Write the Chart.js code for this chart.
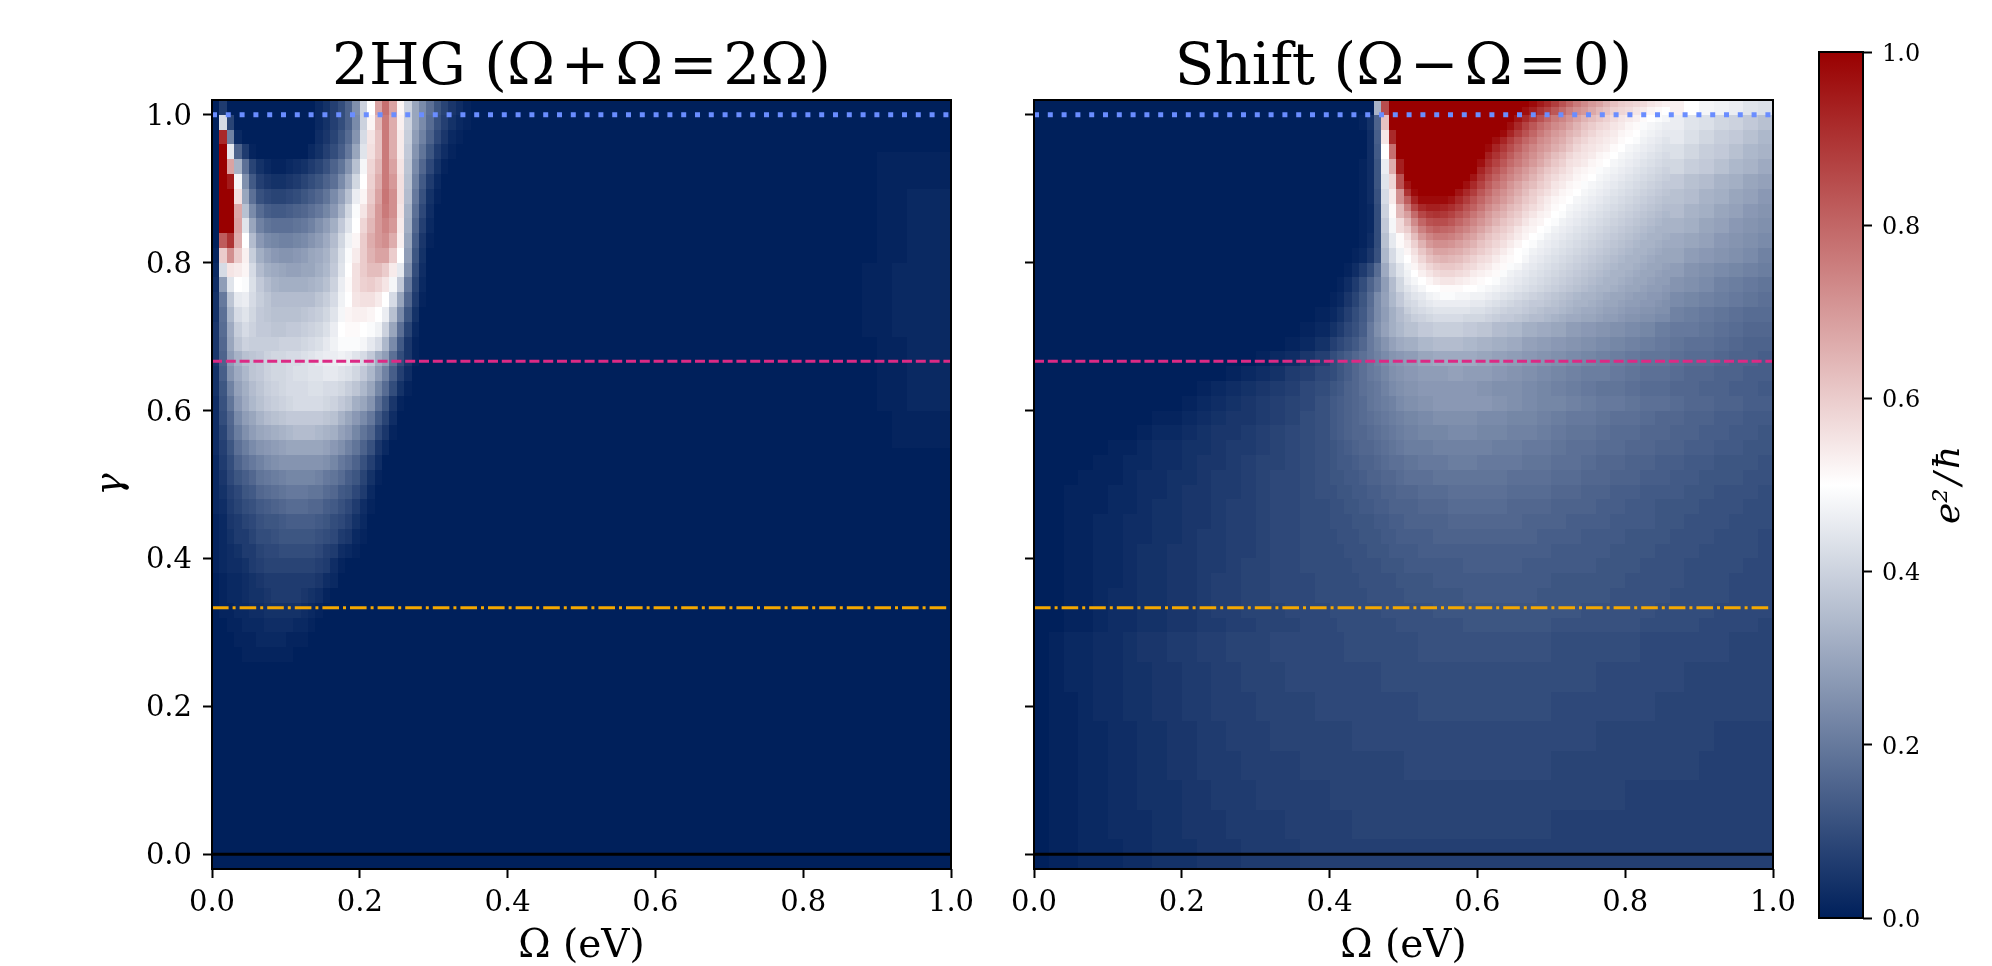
<!DOCTYPE html>
<html>
<head>
<meta charset="utf-8">
<title>2HG and Shift</title>
<script src="https://cdn.jsdelivr.net/npm/chart.js@4"></script>
<style>
body { margin: 0; background: #fff; }
canvas { position: absolute; top: 0; }
</style>
</head>
<body>
<canvas id="chart-2hg" width="1000" height="966" style="left:0"></canvas>
<canvas id="chart-shift" width="822" height="966" style="left:1000px"></canvas>
<canvas id="chart-cbar" width="212" height="966" style="left:1780px"></canvas>
<script>
// tick labels
const omegaTicks = [0, 0.2, 0.4, 0.6, 0.8, 1];
const gammaTicks = [0, 0.2, 0.4, 0.6, 0.8, 1];
const cbarTicks = [0, 0.2, 0.4, 0.6, 0.8, 1];

// horizontal reference lines (gamma)
const lineBlue = [1, 1];
const linePink = [0.6667, 0.6667];
const lineOrange = [0.3333, 0.3333];
const lineBlack = [0, 0];
const lineOmega = [0, 1];

// 2HG panel: bin edges, values in hundredths, short rows end in zeros
const hgOmegaEdges = [0,.01,.02,.03,.04,.05,.06,.07,.08,.09,.1,.11,.12,.13,.14,.15,.16,.17,.18,.19,.2,.21,.22,.23,.24,.25,.26,.27,.28,.29,.3,.31,.32,.33,.34,.35,.36];
const hgGammaEdges = [1.02,1,.98,.96,.94,.92,.9,.88,.86,.84,.82,.8,.78,.76,.74,.72,.7,.68,.66,.64,.62,.6,.58,.56,.54,.52,.5,.48,.46,.44,.42,.4,.38,.36,.34,.32,.3,.28,.26];
const hgRows = [
[0,6,0,0,0,0,0,0,0,0,0,0,0,0,2,4,7,10,15,25,40,50,68,78,68,52,40,30,24,18,12,8,5,3,1,0],
[0,42,8,0,0,0,0,0,0,0,0,0,0,0,2,4,7,10,15,24,40,52,64,76,66,53,40,30,24,17,11,7,4,2,1],
[0,92,22,2,0,0,0,0,0,0,0,0,0,0,3,5,8,12,17,26,42,55,62,76,66,54,39,28,22,15,9,5,2,1],
[0,100,45,15,6,1,0,0,0,0,0,0,0,2,4,7,10,14,20,30,44,56,62,76,66,54,38,26,19,12,6,3,1],
[0,100,68,33,18,8,4,2,1,1,2,3,4,6,8,11,15,19,26,36,48,58,64,76,68,55,37,24,16,9,4,1],
[0,100,95,48,25,13,7,5,4,4,5,6,8,10,12,15,18,24,31,41,50,59,66,76,70,56,36,22,13,6,2],
[0,100,100,56,30,18,11,9,8,8,9,10,12,14,16,19,24,29,36,46,52,60,68,77,72,56,35,20,11,4,1],
[0,100,100,67,36,24,17,14,13,13,14,15,16,18,20,23,27,33,41,49,55,62,70,76,72,55,33,18,9,3],
[0,100,100,68,44,30,22,19,18,18,18,19,20,22,25,28,32,38,44,50,58,64,70,74,70,54,32,16,7,2],
[0,82,90,66,50,35,27,24,23,22,22,23,24,26,28,31,35,41,47,52,60,66,70,72,66,53,30,14,5,1],
[1,60,72,60,53,39,32,29,27,26,26,27,28,30,31,33,37,43,49,54,60,65,68,68,60,50,28,12,4],
[2,42,55,54,52,42,35,32,31,30,29,29,30,30,32,34,38,44,50,56,60,63,63,60,54,45,25,10,3],
[3,28,44,50,49,43,38,35,33,32,32,32,32,33,34,36,40,46,51,56,59,60,58,55,48,38,20,8,2],
[4,20,37,45,46,42,39,37,35,35,35,35,35,35,37,39,42,47,50,55,56,56,54,50,42,30,16,6,1],
[4,18,34,42,44,41,38,37,36,36,36,36,37,38,39,41,44,48,52,53,53,52,50,46,36,24,12,4],
[5,17,31,39,42,40,38,38,37,37,38,38,39,40,41,43,46,50,51,51,50,49,47,40,30,18,8,2],
[5,16,30,37,40,39,39,39,39,40,40,40,41,42,43,45,47,49,49,49,48,45,42,34,24,13,5,1],
[5,15,28,33,36,37,38,40,41,41,42,42,43,44,45,46,46,47,46,44,42,38,32,28,18,10,5,1],
[4,14,26,31,34,37,38,40,41,41,42,43,43,44,44,45,45,44,43,41,38,34,28,22,14,7,3],
[4,12,22,29,32,35,37,39,40,41,42,42,42,43,43,42,42,41,39,37,34,30,23,17,10,4,1],
[3,11,19,27,31,34,36,38,39,40,41,42,42,42,42,41,40,38,36,32,30,26,18,12,5,1],
[3,10,16,24,28,30,33,35,36,37,38,38,38,38,38,37,36,33,30,27,24,20,13,8,3],
[3,8,15,21,25,28,30,31,32,33,34,35,35,35,34,33,32,29,27,23,19,16,9,5,1],
[3,7,12,18,21,24,26,27,28,29,30,30,30,30,30,29,27,25,22,19,15,11,5,2],
[2,6,10,15,18,20,22,24,25,26,26,26,26,26,26,25,23,20,18,15,11,7,3],
[2,5,9,12,14,16,19,20,21,22,23,23,23,23,22,20,19,17,14,12,8,4,1],
[2,4,7,9,12,13,16,17,18,19,20,20,20,19,19,17,16,13,12,9,6,2],
[2,3,6,8,10,11,13,14,15,16,17,17,17,16,16,14,13,11,9,6,3,1],
[1,2,5,6,8,9,11,12,12,13,14,14,14,14,13,12,10,9,7,4,2],
[1,2,4,6,6,8,10,10,11,12,12,12,12,12,11,10,9,6,5,2,1],
[1,2,3,4,6,6,8,9,9,10,10,10,10,10,9,7,6,3,2,1],
[1,2,3,3,4,6,7,8,8,8,8,8,8,8,7,6,3,1],
[0,1,2,2,3,4,5,6,6,6,6,6,6,6,5,3,2],
[0,1,2,2,3,4,4,5,6,6,6,6,5,4,3,1],
[0,1,1,2,2,3,3,4,4,4,4,4,3,2,1],
[0,0,1,1,2,2,2,3,3,3,3,2,2,1],
[0,0,0,1,1,1,2,2,2,2,1,1,1],
[0,0,0,0,1,1,1,1,1,1,1]
];
// faint patch near the right edge of the 2HG panel
const faintOmegaEdges = [.88,.9,.92,.94,.96,.98,1];
const faintGammaEdges = [.95,.9,.8,.7,.6,.55];
const faintRows = [
[0,1,1,1,1,1],
[0,1,1,2,2,2],
[1,1,2,2,2,2],
[0,1,1,2,2,2],
[0,0,1,1,1,1]
];

// Shift panel: bin edges, values in hundredths
const shiftOmegaEdges = [0,.02,.04,.06,.08,.1,.12,.14,.16,.18,.2,.22,.24,.26,.28,.3,.32,.34,.36,.38,.4,.41,.42,.43,.44,.45,.46,.47,.48,.49,.5,.52,.54,.56,.58,.6,.62,.64,.66,.68,.7,.72,.74,.76,.78,.8,.82,.84,.86,.88,.9,.92,.94,.96,.98,1];
const shiftGammaEdges = [1.02,1,.98,.96,.94,.92,.9,.88,.86,.84,.82,.8,.78,.76,.74,.72,.7,.68,.66,.64,.62,.6,.58,.56,.54,.52,.5,.48,.46,.44,.42,.4,.38,.36,.34,.32,.3,.26,.22,.18,.14,.1,.06,.02,-.02];
const shiftRows = [
[0,0,0,0,0,0,0,0,0,0,0,0,0,0,0,0,0,0,0,0, 0,0,0,0,0,0,33,85,100,100, 100,100,100,100,100,100,100,100,96,92,86,80,74,70,64,60,58,55,53,50,48,47,46,44,43],
[0,0,0,0,0,0,0,0,0,0,0,0,0,0,0,0,0,0,0,0, 0,0,0,0,1,4,15,62,100,100, 100,100,100,100,100,100,97,90,83,76,72,68,63,60,56,53,50,48,46,44,43,41,40,38,36],
[0,0,0,0,0,0,0,0,0,0,0,0,0,0,0,0,0,0,0,0, 0,0,0,0,0,3,14,55,92,100, 100,100,100,100,100,100,93,84,78,72,68,64,60,57,55,52,49,47,45,43,41,39,38,36,34],
[0,0,0,0,0,0,0,0,0,0,0,0,0,0,0,0,0,0,0,0, 0,0,0,0,0,3,13,50,78,100, 100,100,100,100,100,97,90,82,76,70,66,62,58,55,52,49,47,45,43,41,39,38,36,34,33],
[0,0,0,0,0,0,0,0,0,0,0,0,0,0,0,0,0,0,0,0, 0,0,0,0,1,3,12,46,66,94, 100,100,100,100,100,92,85,78,72,66,62,58,55,52,49,47,45,43,41,39,38,36,34,33,31],
[0,0,0,0,0,0,0,0,0,0,0,0,0,0,0,0,0,0,0,0, 0,0,0,0,1,3,12,44,58,84, 100,100,100,100,94,86,80,74,68,62,58,54,51,48,46,44,42,40,38,36,35,33,32,30,29],
[0,0,0,0,0,0,0,0,0,0,0,0,0,0,0,0,0,0,0,0, 0,0,0,0,1,3,11,42,54,72, 95,100,100,100,88,82,76,70,64,59,55,51,48,46,44,42,40,38,36,35,33,32,30,29,27],
[0,0,0,0,0,0,0,0,0,0,0,0,0,0,0,0,0,0,0,0, 0,0,0,0,1,2,10,40,51,64, 82,92,94,90,84,78,72,66,61,56,52,49,46,44,42,40,38,36,35,33,32,30,29,27,26],
[0,0,0,0,0,0,0,0,0,0,0,0,0,0,0,0,0,0,0,0, 0,0,0,0,1,2,10,38,48,57, 70,80,83,82,78,72,67,62,57,53,49,47,44,42,40,38,36,35,33,32,30,29,27,26,25],
[0,0,0,0,0,0,0,0,0,0,0,0,0,0,0,0,0,0,0,0, 0,0,0,0,1,3,10,36,45,51, 61,70,72,72,69,65,61,57,53,49,46,44,42,40,38,36,34,33,31,30,29,27,26,25,24],
[0,0,0,0,0,0,0,0,0,0,0,0,0,0,0,0,0,0,0,0, 0,0,0,1,2,5,11,34,42,47, 54,61,63,63,61,58,55,51,47,45,43,41,39,37,35,34,32,31,30,28,27,26,25,24,22],
[0,0,0,0,0,0,0,0,0,0,0,0,0,0,0,0,0,0,0,0, 0,0,1,3,6,10,17,31,39,44, 49,54,56,57,55,53,51,47,45,43,40,38,36,35,33,32,30,29,28,26,25,24,23,22,21],
[0,0,0,0,0,0,0,0,0,0,0,0,0,0,0,0,0,0,0,0, 0,1,3,6,10,15,20,28,35,41, 46,50,51,51,51,49,46,44,42,40,38,36,34,33,31,30,28,27,26,25,24,22,21,20,19],
[0,0,0,0,0,0,0,0,0,0,0,0,0,0,0,0,0,0,0,0, 1,2,5,8,12,17,24,29,34,38, 42,46,47,48,47,45,43,41,39,37,35,34,32,30,29,28,26,25,24,23,22,21,20,19,18],
[0,0,0,0,0,0,0,0,0,0,0,0,0,0,0,0,0,0,0,1, 2,4,7,10,13,18,24,28,32,35, 38,42,43,43,42,41,39,37,35,34,32,31,29,28,27,26,24,23,22,21,20,19,18,17,17],
[0,0,0,0,0,0,0,0,0,0,0,0,0,0,0,0,0,0,1,2, 4,6,9,11,14,20,25,29,32,34, 36,38,39,39,38,37,35,34,32,31,30,28,27,26,25,24,23,21,20,20,19,18,17,16,16],
[0,0,0,0,0,0,0,0,0,0,0,0,0,0,0,0,0,1,2,4, 7,9,11,13,16,20,23,26,29,31, 32,34,35,35,34,33,32,31,29,28,27,26,25,24,23,22,21,20,19,18,18,17,16,15,15],
[0,0,0,0,0,0,0,0,0,0,0,0,0,0,0,1,2,3,5,7, 10,12,14,16,18,20,22,24,26,27, 28,30,31,31,31,30,29,28,27,26,25,24,23,22,21,20,19,19,18,17,17,16,15,15,14],
[0,0,0,0,0,0,0,0,0,0,0,0,0,1,2,3,4,6,7,9, 10,12,14,16,18,20,21,23,25,26, 27,28,28,29,28,28,27,26,25,24,23,22,21,21,20,19,18,18,17,16,16,15,15,14,14],
[0,0,0,0,0,0,0,0,0,0,0,1,2,3,4,5,6,7,9,10, 12,13,15,16,18,19,20,22,24,25, 26,27,27,27,27,26,25,25,24,23,22,21,20,19,19,18,17,17,16,16,15,15,14,14,13],
[0,0,0,0,0,0,0,0,0,0,1,2,3,4,5,6,7,8,9,11, 13,14,15,16,17,19,20,21,22,24, 25,26,27,27,27,27,26,25,24,23,23,22,21,20,20,19,18,18,17,16,16,15,15,14,14],
[0,0,0,0,0,0,0,0,1,1,2,3,4,5,5,6,7,8,10,11, 13,14,15,16,17,18,19,20,21,22, 23,24,25,25,25,24,24,23,23,22,21,20,20,19,18,18,17,16,16,15,15,14,14,13,13],
[0,0,0,0,0,0,0,1,2,2,3,4,5,5,6,7,8,9,10,11, 13,14,15,16,16,17,18,19,20,21, 22,23,23,24,24,23,23,22,22,21,20,19,19,18,17,17,16,16,15,15,14,14,13,13,12],
[0,0,0,0,0,1,1,2,3,3,4,4,5,6,6,7,8,9,10,11, 12,13,14,15,16,16,17,18,19,20, 21,21,22,22,22,22,21,21,20,20,19,18,18,17,17,16,16,15,15,14,14,13,13,12,12],
[0,0,0,0,1,1,2,2,3,3,4,5,5,6,7,8,8,9,10,11, 12,13,13,14,15,15,16,17,18,18, 19,20,20,21,21,20,20,20,19,19,18,18,17,16,16,15,15,14,14,13,13,12,12,12,11],
[0,0,0,1,1,1,2,3,3,4,4,5,6,6,7,8,9,9,10,11, 12,12,13,13,14,15,15,16,16,17, 18,18,19,19,19,19,19,18,18,18,17,17,16,16,15,15,14,14,13,13,12,12,12,11,11],
[0,0,1,1,1,2,2,3,3,4,5,5,6,6,7,8,9,9,10,11, 11,12,12,13,13,14,14,15,15,16, 16,17,17,18,18,18,18,17,17,17,16,16,15,15,14,14,13,13,13,12,12,11,11,11,10],
[0,0,1,1,1,2,2,3,4,4,5,5,6,7,7,8,9,9,10,10, 11,11,12,12,13,13,14,14,15,15, 15,16,16,17,17,17,17,16,16,16,15,15,15,14,14,13,13,12,12,12,11,11,11,10,10],
[0,0,1,1,2,2,3,3,4,4,5,5,6,7,7,8,9,9,10,10, 11,11,11,12,12,12,13,13,14,14, 15,15,15,16,16,16,16,16,15,15,15,14,14,14,13,13,13,12,12,11,11,11,10,10,10],
[0,0,1,1,2,2,3,3,4,4,5,6,6,7,7,8,9,9,10,10, 10,11,11,11,12,12,12,13,13,14, 14,14,15,15,15,15,15,15,15,14,14,14,13,13,13,12,12,12,11,11,11,10,10,10,9],
[0,0,1,1,2,2,3,4,4,5,5,6,6,7,7,8,9,9,10,10, 10,10,11,11,11,12,12,12,13,13, 13,14,14,14,14,14,14,14,14,14,13,13,13,13,12,12,12,11,11,11,10,10,10,10,9],
[0,0,1,1,2,2,3,4,4,5,5,6,6,7,8,8,9,9,10,10, 10,10,10,11,11,11,11,12,12,12, 13,13,13,13,14,14,14,14,13,13,13,13,13,12,12,12,11,11,11,10,10,10,10,9,9],
[0,0,1,1,2,2,3,4,4,5,5,6,7,7,8,8,9,9,9,10, 10,10,10,10,11,11,11,11,11,12, 12,12,13,13,13,13,13,13,13,13,12,12,12,12,12,11,11,11,11,10,10,10,9,9,9],
[0,0,1,1,2,3,3,4,4,5,5,6,7,7,8,8,9,9,9,10, 10,10,10,10,10,11,11,11,11,11, 12,12,12,12,13,13,13,13,13,12,12,12,12,12,11,11,11,11,10,10,10,10,9,9,9],
[0,0,1,1,2,3,3,4,4,5,5,6,7,7,8,8,8,9,9,9, 10,10,10,10,10,10,10,11,11,11, 11,11,12,12,12,12,12,12,12,12,12,12,11,11,11,11,11,10,10,10,10,9,9,9,9],
[0,0,1,1,2,3,3,4,4,5,5,6,6,7,7,8,8,8,9,9, 9,10,10,10,10,10,10,10,10,11, 11,11,11,11,12,12,12,12,12,12,11,11,11,11,11,11,10,10,10,10,9,9,9,9,8],
[0,1,2,2,3,3,4,5,5,6,6,7,7,8,8,8,9,9,9,9, 9,9,10,10,10,10,10,10,10,10, 10,11,11,11,11,11,11,11,11,11,10,10,10,10,10,10,9,9,9,9,9,9,8,8,8],
[0,1,2,2,3,3,4,4,5,5,6,6,7,7,8,8,8,9,9,9, 9,9,9,9,9,9,9,10,10,10, 10,10,10,10,10,10,10,10,10,10,10,10,10,9,9,9,9,9,9,8,8,8,8,8,8],
[0,1,1,2,3,3,4,4,5,5,6,6,7,7,7,8,8,8,8,9, 9,9,9,9,9,9,9,9,9,9, 9,10,10,10,10,10,10,10,10,10,9,9,9,9,9,9,9,8,8,8,8,8,8,8,8],
[0,1,1,2,2,3,3,4,4,5,5,6,6,7,7,7,8,8,8,8, 8,8,8,9,9,9,9,9,9,9, 9,9,9,9,9,9,9,9,9,9,9,9,9,8,8,8,8,8,8,8,8,7,7,7,7],
[0,1,1,2,2,3,3,4,4,5,5,6,6,6,7,7,7,7,8,8, 8,8,8,8,8,8,8,8,8,8, 9,9,9,9,9,9,9,9,9,9,8,8,8,8,8,8,8,8,8,8,7,7,7,7,7],
[0,1,1,2,2,3,3,4,4,4,5,5,6,6,6,7,7,7,7,7, 8,8,8,8,8,8,8,8,8,8, 8,8,8,8,8,8,8,8,8,8,8,8,8,8,8,7,7,7,7,7,7,7,7,7,7],
[0,1,1,2,2,3,3,3,4,4,5,5,5,6,6,6,6,7,7,7, 7,7,7,8,8,8,8,8,8,8, 8,8,8,8,8,8,8,8,8,8,7,7,7,7,7,7,7,7,7,7,7,7,7,7,7],
[0,1,1,2,2,2,3,3,4,4,4,5,5,5,6,6,6,6,7,7, 7,7,7,7,7,7,7,7,7,7, 7,7,7,7,7,7,7,7,7,7,7,7,7,7,7,7,7,7,7,7,7,7,7,7,7]
];

// finer cells around the red lobe of the Shift panel
const lobeOmegaEdges = [.5,.51,.52,.53,.54,.55,.56,.57,.58,.59,.6,.61,.62,.63,.64,.65,.66,.67,.68,.69,.7,.71,.72,.73,.74,.75,.76,.77,.78,.79,.8,.81,.82,.83,.84,.85,.86];
const lobeGammaEdges = [1.02,1.01,1,.99,.98,.97,.96,.95,.94,.93,.92,.91,.9,.89,.88,.87,.86,.85,.84,.83,.82,.81,.8,.79,.78,.77,.76,.75,.74,.73,.72];
const lobeRows = [
[100,100,100,100,100,100,100,100,100,100,100,100,100,100,100,100,100,98,95,92,88,84,80,76,73,70,68,65,62,60,59,58,57,55,54,53],
[100,100,100,100,100,100,100,100,100,100,100,100,100,100,100,100,97,94,90,87,83,79,75,72,70,67,64,62,59,58,57,55,54,52,51,50],
[100,100,100,100,100,100,100,100,100,100,100,100,100,100,100,96,92,88,84,80,76,74,71,68,65,63,61,59,57,55,54,53,51,50,49,48],
[100,100,100,100,100,100,100,100,100,100,100,100,100,100,97,92,87,83,79,76,73,71,68,65,62,60,58,57,55,54,52,51,49,48,47,46],
[100,100,100,100,100,100,100,100,100,100,100,100,100,98,93,88,84,80,76,73,70,68,65,63,60,58,56,55,54,52,51,50,48,47,46,45],
[100,100,100,100,100,100,100,100,100,100,100,100,97,93,88,84,80,77,73,71,68,66,63,60,58,56,55,54,53,51,50,49,47,46,45,44],
[100,100,100,100,100,100,100,100,100,100,100,98,93,89,85,81,77,74,71,69,66,64,61,58,56,55,54,53,51,50,48,47,46,45,44,43],
[100,100,100,100,100,100,100,100,100,100,100,94,90,86,82,78,75,72,69,66,63,61,58,56,55,54,52,51,50,48,47,46,45,44,43,42],
[100,100,100,100,100,100,100,100,100,100,97,91,87,83,79,76,73,70,67,64,61,59,56,55,54,52,51,50,48,47,46,45,44,43,42,41],
[100,100,100,100,100,100,100,100,100,100,93,88,84,80,76,73,70,67,64,61,59,57,55,53,52,51,49,48,47,46,45,44,43,42,41,40],
[100,100,100,100,100,100,100,100,100,96,90,85,81,77,74,71,68,65,62,59,57,55,54,52,51,50,48,47,46,45,44,43,42,41,40,39],
[96,100,100,100,100,100,100,100,97,92,87,82,78,75,71,68,65,63,60,58,55,54,52,51,49,48,47,46,45,44,43,42,41,40,39,38],
[90,98,100,100,100,100,100,96,92,88,83,79,75,72,69,66,63,60,58,56,54,52,51,50,48,47,46,45,44,43,42,41,40,39,38,37],
[82,93,98,98,98,98,96,92,88,84,80,76,73,70,67,64,61,59,56,54,52,51,50,48,47,46,45,44,43,42,41,40,39,38,37,36],
[75,86,92,94,94,93,91,88,84,81,77,73,70,67,64,62,59,57,55,53,51,50,48,47,46,45,44,43,42,41,40,39,38,37,36,35],
[69,79,86,89,90,89,87,84,81,77,74,70,67,65,62,60,57,55,53,52,50,49,47,46,45,44,43,42,41,40,39,38,37,36,35,34],
[64,73,80,84,85,85,83,80,77,74,71,68,65,62,60,58,55,53,52,50,49,47,46,45,44,43,42,41,40,39,38,37,36,35,34,33],
[60,68,75,79,81,80,79,76,74,71,68,65,62,60,58,55,53,52,50,49,47,46,45,44,43,42,41,40,39,38,37,36,35,34,33,33],
[56,63,70,74,76,76,75,73,70,68,65,62,60,58,56,54,52,50,49,47,46,45,44,43,42,41,40,39,38,37,36,35,34,33,33,32],
[54,59,65,70,72,72,71,69,67,65,62,60,58,56,54,52,50,49,47,46,45,44,43,42,41,40,39,38,37,36,35,34,33,33,32,31],
[52,56,61,65,68,68,67,66,64,62,60,58,56,54,52,50,49,47,46,45,44,43,42,41,40,39,38,37,36,35,34,33,33,32,31,30],
[50,54,58,62,64,65,64,63,61,59,57,56,54,52,51,50,48,46,45,44,43,42,41,40,39,38,37,36,35,34,33,33,32,31,30,30],
[48,52,55,58,60,61,61,60,58,57,55,54,52,51,49,48,46,45,44,43,42,41,40,39,38,37,36,35,34,33,33,32,31,30,30,29],
[47,50,53,55,57,58,58,57,56,54,53,52,51,49,47,46,45,44,43,42,41,40,39,38,37,36,35,34,33,33,32,31,30,30,29,28],
[46,48,50,52,54,55,55,54,53,52,51,50,49,47,46,45,44,43,42,41,40,39,38,37,36,35,34,33,33,32,31,30,30,29,28,28],
[44,46,48,50,50,51,51,51,50,50,49,48,47,46,45,44,43,42,41,40,39,38,37,36,35,34,33,33,32,31,30,30,29,28,28,27],
[42,44,45,47,48,49,49,48,48,47,47,46,45,44,43,42,41,40,39,38,37,36,35,34,33,33,32,31,30,30,29,28,28,27,27,26],
[41,42,44,45,46,46,46,46,46,45,45,44,43,42,41,40,39,38,38,37,36,35,34,33,33,32,31,30,30,29,28,28,27,27,26,25],
[39,41,42,43,44,44,44,44,44,43,43,42,41,40,39,39,38,37,36,35,35,34,33,32,31,31,30,29,29,28,27,27,26,26,25,25],
[37,39,40,41,42,42,42,42,41,41,41,40,39,38,38,37,36,35,35,34,33,32,31,31,30,30,29,28,28,27,26,26,25,25,24,24]
];

// colormap stops
const cmapStops = [0, 0.5, 1];
const cmapColors = [[0, 32, 91], [255, 255, 255], [153, 0, 0]];

const serif = 'DejaVu Serif';

function cmap(v) {
    let k = v < cmapStops[1] ? 0 : 1;
    let t = (v - cmapStops[k]) / (cmapStops[k + 1] - cmapStops[k]);
    let a = cmapColors[k], b = cmapColors[k + 1];
    return `rgb(${a[0] + (b[0] - a[0]) * t},${a[1] + (b[1] - a[1]) * t},${a[2] + (b[2] - a[2]) * t})`;
}

// turn a table into one dataset of cells
function cellDataset(label, xEdges, yEdges, rows) {
    let data = [];
    rows.forEach((row, j) => {
        row.forEach((val, i) => {
            data.push({
                x: (xEdges[i] + xEdges[i + 1]) / 2,
                y: (yEdges[j] + yEdges[j + 1]) / 2,
                x0: xEdges[i], x1: xEdges[i + 1],
                y0: yEdges[j], y1: yEdges[j + 1],
                v: val / 100
            });
        });
    });
    return { type: 'scatter', label: label, cells: true, data: data, pointRadius: 0, pointHitRadius: 0 };
}

function lineDataset(label, ys, color, width, dash) {
    return {
        type: 'scatter', label: label, showLine: true, pointRadius: 0,
        data: lineOmega.map((x, i) => ({ x: x, y: ys[i] })),
        borderColor: color, borderWidth: width, borderDash: dash, borderCapStyle: 'butt'
    };
}

// paints the cells under the lines, positions come from the chart scales
const heatPlugin = {
    id: 'heat',
    beforeDatasetsDraw(chart) {
        let c = chart.ctx, xs = chart.scales.x, ys = chart.scales.y;
        c.save();
        chart.data.datasets.forEach(ds => {
            if (!ds.cells) return;
            ds.data.forEach(p => {
                let l = Math.round(xs.getPixelForValue(p.x0)), r = Math.round(xs.getPixelForValue(p.x1));
                let t = Math.round(ys.getPixelForValue(p.y0)), b = Math.round(ys.getPixelForValue(p.y1));
                c.fillStyle = cmap(p.v);
                c.fillRect(l, t, r - l, b - t);
            });
        });
        c.restore();
    }
};

const framePlugin = {
    id: 'frame',
    beforeDraw(chart) {
        // digits of DejaVu Serif sit high on a middle baseline, push the y labels down
        if (chart.$nudged) return;
        chart.$nudged = true;
        chart.scales.y.getLabelItems().forEach(it => { it.options.translation[1] += 2.5; });
    },
    afterDraw(chart) {
        let a = chart.chartArea, c = chart.ctx;
        c.save();
        c.strokeStyle = '#000';
        c.lineWidth = 2;
        c.strokeRect(a.left, a.top, a.right - a.left, a.bottom - a.top);
        c.restore();
    }
};

const gridOpts = { drawOnChartArea: false, drawTicks: true, tickLength: 9, tickWidth: 2, tickColor: '#000' };

function panel(id, titleText, yTitle, yWidth, padLeft, datasets) {
    return new Chart(document.getElementById(id), {
        type: 'scatter',
        data: { datasets: datasets },
        plugins: [heatPlugin, framePlugin],
        options: {
            responsive: false,
            animation: false,
            layout: { padding: { left: padLeft, right: 49, top: 0, bottom: 0 } },
            plugins: {
                legend: { display: false },
                tooltip: { enabled: false },
                title: {
                    display: true, text: titleText, color: '#000', fullSize: false,
                    font: { family: serif, size: 58, weight: 'normal', lineHeight: 1 },
                    padding: { top: 40, bottom: 2 }
                }
            },
            scales: {
                x: {
                    type: 'linear', min: 0, max: 1,
                    afterFit: s => { s.height = 97; },
                    afterBuildTicks: s => { s.ticks = omegaTicks.map(v => ({ value: v })); },
                    border: { display: false },
                    grid: gridOpts,
                    ticks: { color: '#000', padding: 8, maxRotation: 0, autoSkip: false, font: { family: serif, size: 29 }, callback: v => v.toFixed(1) },
                    title: { display: true, text: 'Ω (eV)', color: '#000', padding: 0, font: { family: serif, size: 39, lineHeight: 1 } }
                },
                y: {
                    type: 'linear', min: -0.02, max: 1.02,
                    afterFit: s => { s.width = yWidth; },
                    afterBuildTicks: s => { s.ticks = gammaTicks.map(v => ({ value: v })); },
                    border: { display: false },
                    grid: gridOpts,
                    ticks: { display: yTitle !== '', color: '#000', padding: 11, autoSkip: false, font: { family: serif, size: 29 }, callback: v => v.toFixed(1) },
                    title: { display: yTitle !== '', text: yTitle, color: '#000', padding: 0, font: { family: serif, size: 37, style: 'italic', lineHeight: 1 } }
                }
            }
        }
    });
}

function refLines() {
    return [
        lineDataset('γ = 1', lineBlue, '#6a8dff', 5, [5, 8.8]),
        lineDataset('γ = 2/3', linePink, '#dc2a85', 3, [10, 3.8]),
        lineDataset('γ = 1/3', lineOrange, '#f5a800', 3, [16.6, 4, 3, 4]),
        lineDataset('γ = 0', lineBlack, '#000', 3, [])
    ];
}

// base fill is the zero colour, the tables only cover what differs from it
panel('chart-2hg', '2HG (Ω\u200a+\u200aΩ\u200a=\u200a2Ω)', 'γ', 119, 93, [
    cellDataset('base', lineOmega, [1.02, -0.02], [[0]]),
    cellDataset('2HG', hgOmegaEdges, hgGammaEdges, hgRows),
    cellDataset('2HG faint', faintOmegaEdges, faintGammaEdges, faintRows)
].concat(refLines()));

panel('chart-shift', 'Shift (Ω\u200a\u2212\u200aΩ\u200a=\u200a0)', '', 34, 0, [
    cellDataset('Shift', shiftOmegaEdges, shiftGammaEdges, shiftRows),
    cellDataset('Shift lobe', lobeOmegaEdges, lobeGammaEdges, lobeRows)
].concat(refLines()));

// colorbar
const cbarPlugin = {
    id: 'cbar',
    beforeDatasetsDraw(chart) {
        let a = chart.chartArea, c = chart.ctx, ys = chart.scales.y;
        let g = c.createLinearGradient(0, ys.getPixelForValue(0), 0, ys.getPixelForValue(1));
        cmapStops.forEach(s => g.addColorStop(s, cmap(s)));
        c.save();
        c.fillStyle = g;
        c.fillRect(a.left, a.top, a.right - a.left, a.bottom - a.top);
        c.restore();
    },
    afterDraw(chart) {
        // label reads upwards, which an axis on the right cannot do
        let c = chart.ctx;
        c.save();
        c.translate(170, 485);
        c.rotate(-Math.PI / 2);
        c.font = `italic 36px "${serif}"`;
        c.fillStyle = '#000';
        c.textAlign = 'center';
        c.textBaseline = 'middle';
        c.fillText('e²\u200a/\u200aħ', 0, 0);
        c.restore();
    }
};

new Chart(document.getElementById('chart-cbar'), {
    type: 'scatter',
    data: { datasets: [] },
    plugins: [cbarPlugin, framePlugin],
    options: {
        responsive: false,
        animation: false,
        layout: { padding: { left: 39, right: 0, top: 52, bottom: 48 } },
        plugins: { legend: { display: false }, tooltip: { enabled: false } },
        scales: {
            x: { type: 'linear', min: 0, max: 1, display: false },
            y: {
                type: 'linear', position: 'right', min: 0, max: 1,
                afterFit: s => { s.width = 129; },
                afterBuildTicks: s => { s.ticks = cbarTicks.map(v => ({ value: v })); },
                border: { display: false },
                grid: gridOpts,
                ticks: { color: '#000', padding: 10, autoSkip: false, font: { family: serif, size: 24 }, callback: v => v.toFixed(1) }
            }
        }
    }
});
</script>
</body>
</html>
